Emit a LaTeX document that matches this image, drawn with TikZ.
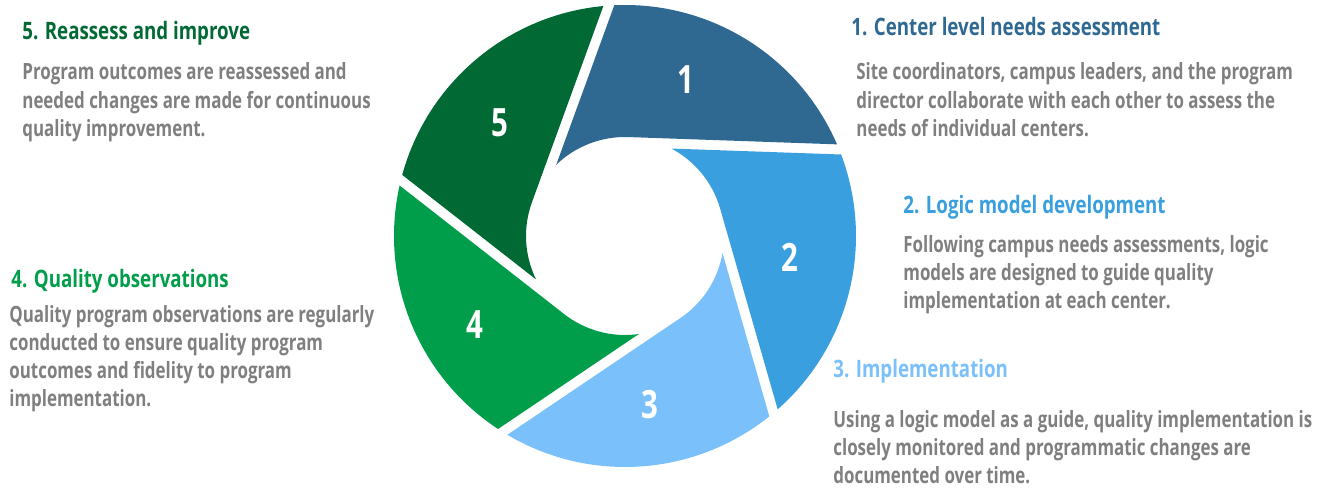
\documentclass[tikz,border=0pt]{standalone}
\usepackage{fontspec}
\newfontfamily\cond[FakeStretch=0.755]{Open Sans}
\newfontfamily\condh[FakeStretch=0.78]{Open Sans}
\definecolor{cA}{RGB}{47,105,146}
\definecolor{cB}{RGB}{58,159,223}
\definecolor{cC}{RGB}{122,192,250}
\definecolor{cD}{RGB}{0,158,74}
\definecolor{cE}{RGB}{0,105,52}
\definecolor{txt}{RGB}{127,127,127}
\tikzset{
  head/.style={anchor=base west, inner sep=0pt, font=\condh\bfseries\fontsize{12}{14}\selectfont},
  body/.style={anchor=base west, inner sep=0pt, align=left, text=txt, font=\cond\bfseries\fontsize{11.2}{14.15}\selectfont},
  digit/.style={inner sep=0pt, text=white, font=\cond\bfseries\fontsize{19.5}{20}\selectfont}
}
\begin{document}
\begin{tikzpicture}[x=0.5pt,y=0.5pt]
\useasboundingbox (-625,-251) rectangle (700,236);
\def\Ro{231}\def\ri{99}\def\gp{10}
\foreach \k/\col in {1/cA,2/cB,3/cC,4/cD,5/cE}{
  \pgfmathsetmacro\al{88-72*(\k-1)}
  \pgfmathsetmacro\ap{\al+72}
  \pgfmathsetmacro\be{\ap-acos((\ri-\gp)/\Ro)}
  \pgfmathsetmacro\ga{\ap-acos((\ri-\gp)/\ri)}
  \pgfmathsetmacro\de{\al-acos(\ri/\Ro)}
  \fill[\col] (\be:\Ro) -- (\ga:\ri) arc[start angle=\ga, end angle=\al, radius=\ri]
     -- (\de:\Ro) arc[start angle=\de, end angle=\be, radius=\Ro] -- cycle;
}
\node[digit] (n1) at (61,156) {1};
\node[digit] (n2) at (165,-21) {2};
\node[digit] (n3) at (25,-169) {3};
\node[digit] (n4) at (-150,-89) {4};
\node[digit] (n5) at (-125,113) {5};

% multi-line nodes: base anchor is the last line's baseline
\node[head, text=cE] (h5) at (-603,196) {5. Reassess and improve};
\node[body] (b5) at (-603,99.4) {Program outcomes are reassessed and\\needed changes are made for continuous\\quality improvement.};
\node[head, text=cD] (h4) at (-614,-51) {4. Quality observations};
\node[body] (b4) at (-616,-170.9) {Quality program observations are regularly\\conducted to ensure quality program\\outcomes and fidelity to program\\implementation.};
\node[head, text=cA] (h1) at (226,200) {1. Center level needs assessment};
\node[body] (b1) at (231,99.4) {Site coordinators, campus leaders, and the program\\director collaborate with each other to assess the\\needs of individual centers.};
\node[head, text=cB] (h2) at (278,23) {2. Logic model development};
\node[body] (b2) at (278,-72.6) {Following campus needs assessments, logic\\models are designed to guide quality\\implementation at each center.};
\node[head, text=cC] (h3) at (208,-141) {3. Implementation};
\node[body] (b3) at (208,-247.6) {Using a logic model as a guide, quality implementation is\\closely monitored and programmatic changes are\\documented over time.};
\end{tikzpicture}
\end{document}
